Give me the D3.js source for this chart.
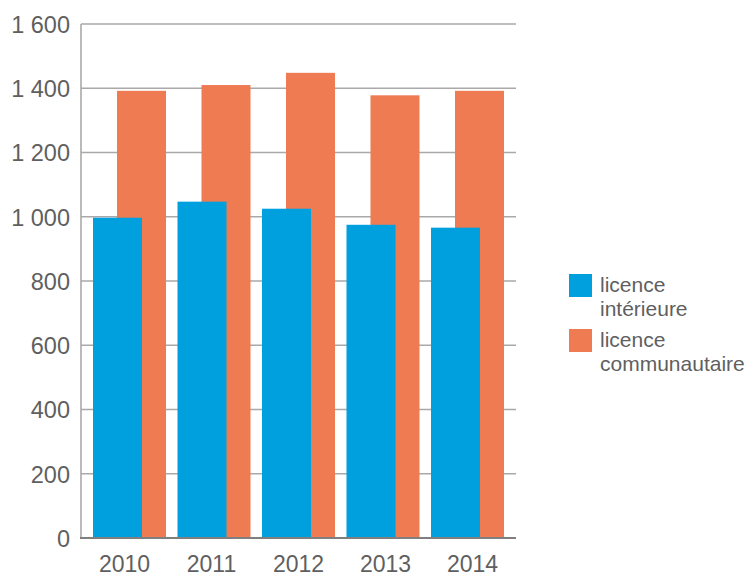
<!DOCTYPE html>
<html>
<head>
<meta charset="utf-8">
<script src="https://cdn.jsdelivr.net/npm/d3@7"></script>
<style>
  html, body { margin: 0; padding: 0; background: #fff; }
  svg { display: block; }
  text { font-family: "Liberation Sans", Arial, sans-serif; fill: #5f5f5f; }
</style>
</head>
<body>
<svg id="chart" width="748" height="577"></svg>
<script>
const categories = ["2010", "2011", "2012", "2013", "2014"];
const interieure = [997, 1047, 1025, 975, 966];
const communautaire = [1392, 1410, 1448, 1378, 1392];
const yTicks = [0, 200, 400, 600, 800, 1000, 1200, 1400, 1600];
const seriesNames = [["licence", "intérieure"], ["licence", "communautaire"]];
const colors = ["#00A0DE", "#EE7B52"];

const svg = d3.select("#chart");
const pLeft = 81, pRight = 516, pTop = 24, pBottom = 538;

const y = d3.scaleLinear().domain([0, 1600]).range([pBottom, pTop]);
const xLab = d3.scaleBand().domain(categories).range([pLeft, pRight]).padding(0);
const xBar = d3.scaleBand().domain(categories).range([pLeft, pRight])
  .paddingInner(0.136).paddingOuter(0.142);
const bw = xBar.bandwidth();
const barW = bw * 49 / 73;
const offset = bw * 24 / 73;

// gridlines
svg.append("g").selectAll("line").data(yTicks.filter(d => d > 0)).join("line")
  .attr("x1", pLeft).attr("x2", pRight)
  .attr("y1", d => y(d)).attr("y2", d => y(d))
  .attr("stroke", "#a9a9a9").attr("stroke-width", 1.6);

// left axis line
svg.append("line").attr("x1", pLeft).attr("x2", pLeft).attr("y1", pTop).attr("y2", pBottom)
  .attr("stroke", "#a9a9a9").attr("stroke-width", 1.6);

// orange bars (behind)
svg.append("g").selectAll("rect").data(categories).join("rect")
  .attr("x", (d) => xBar(d) + offset)
  .attr("width", barW)
  .attr("y", (d, i) => y(communautaire[i]))
  .attr("height", (d, i) => y(0) - y(communautaire[i]))
  .attr("fill", colors[1]);

// blue bars (front)
svg.append("g").selectAll("rect").data(categories).join("rect")
  .attr("x", (d) => xBar(d))
  .attr("width", barW)
  .attr("y", (d, i) => y(interieure[i]))
  .attr("height", (d, i) => y(0) - y(interieure[i]))
  .attr("fill", colors[0]);

// baseline
svg.append("line").attr("x1", pLeft - 1).attr("x2", pRight).attr("y1", y(0)).attr("y2", y(0))
  .attr("stroke", "#7f7f7f").attr("stroke-width", 2);

// y axis labels
const yAxis = d3.axisLeft(y).tickValues(yTicks).tickSize(0).tickPadding(0)
  .tickFormat(d => d3.format(",")(d).replace(/,/g, " "));
const gy = svg.append("g").attr("transform", `translate(70,0)`).call(yAxis);
gy.select(".domain").remove();
gy.selectAll("text").attr("font-size", "23.5px").attr("fill", "#5f5f5f")
  .attr("font-family", "Liberation Sans, Arial, sans-serif").attr("dy", "0.36em");

// x axis labels
const xAxis = d3.axisBottom(xLab).tickSize(0).tickPadding(0);
const gx = svg.append("g").attr("transform", `translate(0,${y(0)})`).call(xAxis);
gx.select(".domain").remove();
gx.selectAll("text").attr("font-size", "23px").attr("fill", "#5f5f5f")
  .attr("font-family", "Liberation Sans, Arial, sans-serif").attr("dy", "34px").attr("y", 0);

// legend
const lg = svg.append("g");
seriesNames.forEach((lines, i) => {
  const y0 = 274 + i * 55;
  lg.append("rect").attr("x", 569).attr("y", y0).attr("width", 23).attr("height", 23)
    .attr("fill", colors[i]);
  lines.forEach((t, j) => {
    lg.append("text").attr("x", 600).attr("y", y0 + 18 + j * 23.5)
      .attr("font-size", "21px").text(t);
  });
});
</script>
</body>
</html>
